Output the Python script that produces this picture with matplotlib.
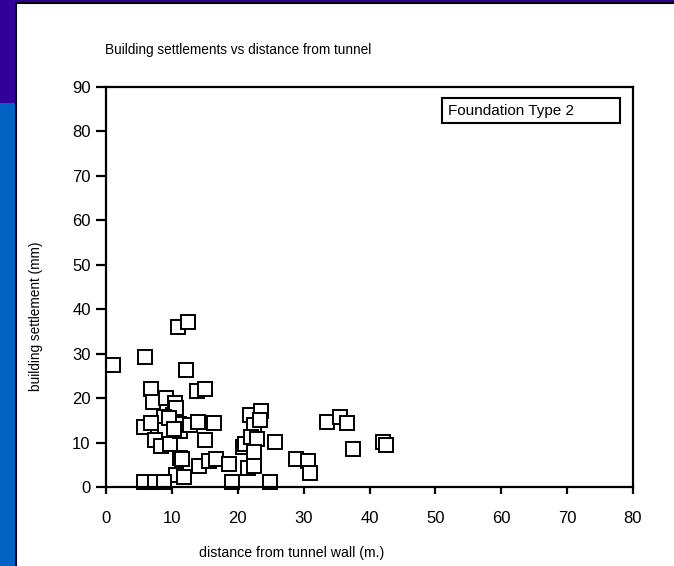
import matplotlib
matplotlib.use("Agg")
import matplotlib.pyplot as plt
from matplotlib.patches import Rectangle
from matplotlib.lines import Line2D

# distance from tunnel wall (m.) and building settlement (mm)
distance = [1.1, 5.9, 10.9, 12.5, 12.1, 6.8, 13.8, 15.1, 7.2, 9.1,
            10.5, 10.1, 10.6, 8.8, 5.8, 6.9, 8.9, 7.4, 8.4, 9.7,
            11.2, 11.1, 12.7, 14.0, 16.4, 15.0, 11.2, 11.5, 14.1, 15.7,
            16.7, 18.7, 10.6, 11.8, 5.8, 7.4, 8.8, 19.1, 24.9, 21.9,
            23.6, 22.4, 23.4, 20.8, 21.1, 22.0, 22.9, 22.4, 25.6, 21.6,
            22.4, 28.9, 30.6, 31.0, 33.5, 35.5, 36.6, 37.5, 42.0, 42.5,
            9.5, 10.3]
settlement = [27.4, 29.3, 36.1, 37.2, 26.3, 22.1, 21.6, 22.0, 19.2, 20.0,
              19.0, 16.2, 17.8, 15.8, 13.6, 14.3, 12.8, 10.5, 9.2, 9.6,
              12.6, 14.2, 14.0, 14.7, 14.5, 10.6, 6.6, 6.2, 4.7, 5.9,
              6.2, 5.2, 2.7, 2.2, 1.2, 1.2, 1.2, 1.1, 1.1, 16.3,
              17.1, 14.0, 15.1, 9.1, 9.7, 11.2, 10.7, 7.9, 10.1, 4.2,
              4.8, 6.2, 5.9, 3.1, 14.7, 15.7, 14.3, 8.5, 10.1, 9.5,
              15.5, 13.0]

x_ticks = [0, 10, 20, 30, 40, 50, 60, 70, 80]
y_ticks = [0, 10, 20, 30, 40, 50, 60, 70, 80, 90]

plt.rcParams['font.family'] = ['Liberation Sans', 'DejaVu Sans']

W, H = 674, 566
fig = plt.figure(figsize=(W / 100, H / 100), dpi=100)
fig.patch.set_facecolor('white')

# slide frame: coloured strips left and top, black border
fig.patches.append(Rectangle((0, 0), 16 / W, 1 - 103 / H, transform=fig.transFigure,
                             facecolor='#0063c6', edgecolor='none', zorder=0))
fig.patches.append(Rectangle((0, 1 - 103 / H), 16 / W, 103 / H, transform=fig.transFigure,
                             facecolor='#330099', edgecolor='none', zorder=0))
fig.patches.append(Rectangle((0, 1 - 3 / H), 1, 3 / H, transform=fig.transFigure,
                             facecolor='#330099', edgecolor='none', zorder=0))
fig.lines.append(Line2D([16 / W, 16 / W], [0, 1 - 3 / H], transform=fig.transFigure,
                        color='black', lw=1.5))
fig.lines.append(Line2D([16 / W, 1], [1 - 3 / H, 1 - 3 / H], transform=fig.transFigure,
                        color='black', lw=1.5))

ax = fig.add_axes([106 / W, 1 - 487 / H, 527 / W, 400 / H])
ax.plot(distance, settlement, linestyle='none', marker='s', markersize=9.5,
        markerfacecolor='white', markeredgecolor='black', markeredgewidth=1.4,
        clip_on=False)

ax.set_xlim(0, 80)
ax.set_ylim(0, 90)
ax.set_xticks(x_ticks)
ax.set_yticks(y_ticks)
for s in ax.spines.values():
    s.set_linewidth(1.6)
ax.tick_params(axis='y', direction='out', length=7, width=1.6, labelsize=12, pad=4)
ax.tick_params(axis='x', direction='out', length=5, width=1.6, labelsize=12, pad=12)

fig.text(105 / W, 1 - 50 / H, 'Building settlements vs distance from tunnel',
         fontsize=9.8, ha='left', va='center')
fig.text(292 / W, 1 - 553 / H, 'distance from tunnel wall (m.)',
         fontsize=10.2, ha='center', va='center')
fig.text(36 / W, 1 - 316 / H, 'building settlement (mm)',
         fontsize=9.8, ha='center', va='center', rotation=90)

# legend box
ax.add_patch(Rectangle((0.6376, 0.91), 0.3377, 0.0625, transform=ax.transAxes,
                       facecolor='white', edgecolor='black', lw=1.5, zorder=5))
ax.text(0.6490, 0.9412, 'Foundation Type 2', transform=ax.transAxes,
        fontsize=11, ha='left', va='center', zorder=6)

fig.savefig('out.png', dpi=100)
